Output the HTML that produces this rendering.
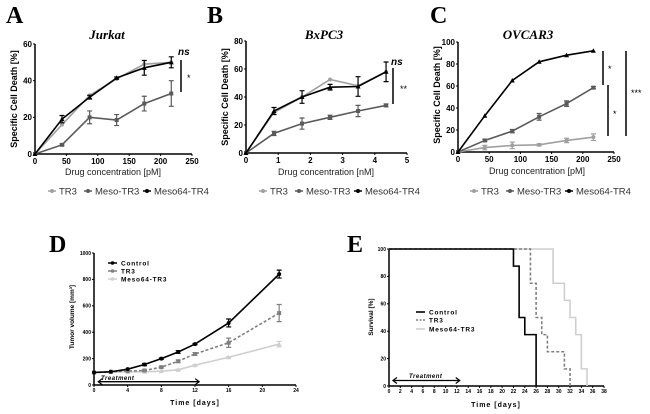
<!DOCTYPE html>
<html><head><meta charset="utf-8"><style>
html,body{margin:0;padding:0;background:#fff;}
svg{display:block;font-family:"Liberation Sans",Arial,sans-serif;}
.big{font-family:"Liberation Serif",serif;font-weight:bold;font-size:24px;}
.ttl{font-family:"Liberation Serif",serif;font-weight:bold;font-style:italic;font-size:13px;}
</style></head><body>
<svg id="fig" width="650" height="414" viewBox="0 0 650 414"></svg>
<script>
// ---- data ----
const concPM = [0,43,87,130,174,217];
const concNM = [0,0.87,1.74,2.61,3.48,4.35];
const aTR3 = [0,16,32,41,49,50];
const aMeso = [0,5,20,18.5,27.5,33];
const aMeso64 = [0,19,31,41.5,47,50];
const aErrMeso = [0,0.5,3.5,3,4,7];
const aErr64 = [0,2,1,0.5,4,3];
const bTR3 = [0,29,40,52.5,48,58];
const bMeso = [0,14,21,25.5,30,34];
const bMeso64 = [0,30,40,47,47.5,58];
const bErrMeso = [0,1.5,4,1.5,4,1];
const bErr64 = [0,2.5,4.5,2,7,7];
const cTR3 = [0,4,6,6.5,10.5,13.5];
const cMeso = [0,10.5,19,32,44,58.5];
const cMeso64 = [0,33,65,82,88,92];
const cErrTR3 = [0,2,3,1,2,3];
const cErrMeso = [0,1,1.5,3,2.5,1];
const daysD = [0,2,4,6,8,10,12,16,22];
const dControl = [95,100,120,155,200,250,310,470,840];
const dTR3 = [95,100,105,110,135,180,235,320,545];
const dMeso64 = [95,100,100,100,105,115,150,210,310];
const dErrControl = [0,0,0,8,5,10,5,30,30];
const dErrTR3 = [0,0,0,5,5,10,10,35,65];
const dErrMeso = [0,0,0,0,0,5,5,5,20];
const eControlT = [0,22,23,24,26];
const eControlS = [100,87.5,50,37.5,0];
const eTR3T = [0,25,26,27,28,31,32];
const eTR3S = [100,75,50,37.5,25,12.5,0];
const eMesoT = [0,29,31,32,33,34,35];
const eMesoS = [100,75,62.5,50,37.5,12.5,0];

const svg = document.getElementById('fig');
const NS = 'http://www.w3.org/2000/svg';
function el(tag, attrs, parent, name){
  const e = document.createElementNS(NS, tag);
  for (const k in attrs) e.setAttribute(k, attrs[k]);
  
  
  (parent||svg).appendChild(e);
  return e;
}
function txt(x,y,s,attrs,name){
  const t = el('text', Object.assign({x:x,y:y}, attrs), svg, name);
  t.textContent = s; return t;
}
function lin(d0,d1,p0,p1){ return v => p0 + (v-d0)/(d1-d0)*(p1-p0); }

function axes(X, Y, xt, yt, xmax, ymax, fs, tickLen){
  el('line',{x1:X(0),y1:Y(0),x2:X(xmax),y2:Y(0),stroke:'#000','stroke-width':1.5},svg,'x-axis');
  el('line',{x1:X(0),y1:Y(0),x2:X(0),y2:Y(ymax),stroke:'#000','stroke-width':1.5},svg,'y-axis');
  xt.forEach(v=>{
    el('line',{x1:X(v),y1:Y(0),x2:X(v),y2:Y(0)+tickLen,stroke:'#000','stroke-width':1},svg,'x-tick');
    txt(X(v),Y(0)+tickLen+fs,String(v),{'font-size':fs,'font-weight':'bold','text-anchor':'middle'},'x-tick-label');
  });
  yt.forEach(v=>{
    el('line',{x1:X(0)-tickLen,y1:Y(v),x2:X(0),y2:Y(v),stroke:'#000','stroke-width':1},svg,'y-tick');
    txt(X(0)-tickLen-1,Y(v)+fs*0.35,String(v),{'font-size':fs,'font-weight':'bold','text-anchor':'end'},'y-tick-label');
  });
}
function series(X,Y,xs,ys,color,name,err,marker,dash){
  const pts = xs.map((x,i)=>X(x)+','+Y(ys[i])).join(' ');
  el('polyline',{points:pts,fill:'none',stroke:color,'stroke-width':1.6,'stroke-dasharray':dash||'none'},svg,name+'-line');
  xs.forEach((x,i)=>{
    if (err && err[i]>0){
      const cx=X(x), y1=Y(ys[i]-err[i]), y2=Y(ys[i]+err[i]);
      el('path',{d:`M${cx},${y1}V${y2}M${cx-2.5},${y1}h5M${cx-2.5},${y2}h5`,stroke:color,'stroke-width':1.2,fill:'none'},svg,name+'-error-bar');
    }
    const cx=X(x), cy=Y(ys[i]);
    if (marker==='tri') el('path',{d:`M${cx},${cy-2.5}L${cx+2.5},${cy+2}L${cx-2.5},${cy+2}Z`,fill:color},svg,name+'-point');
    else if (marker==='sq') el('rect',{x:cx-2,y:cy-2,width:4,height:4,fill:color},svg,name+'-point');
    else el('circle',{cx:cx,cy:cy,r:2,fill:color},svg,name+'-point');
  });
}
function legendRow(y, items){
  items.forEach(it=>{
    el('line',{x1:it.x,y1:y,x2:it.x+8,y2:y,stroke:it.c,'stroke-width':1.5},svg,'legend-line');
    el('circle',{cx:it.x+4,cy:y,r:2,fill:it.c},svg,'legend-marker');
    txt(it.x+11,y+3.5,it.t,{'font-size':9.5,fill:'#333'},'legend-entry');
  });
}
function ylab(x,y,s,fs,name){
  txt(x,y,s,{'font-size':fs,'font-weight':'bold','text-anchor':'middle',transform:`rotate(-90 ${x} ${y})`},name);
}
const LG='#a0a0a0', DG='#5a5a5a', BK='#000';

// ---- Panel A ----
txt(6,23,'A',{class:'big'},'panel-label-a');
txt(107,39,'Jurkat',{class:'ttl','text-anchor':'middle'},'title-a');
{
  const X=lin(0,250,35,192), Y=lin(0,60,154,44);
  axes(X,Y,[0,50,100,150,200,250],[0,20,40,60],250,60,8,2);
  series(X,Y,concPM,aTR3,LG,'a-tr3',null,'circle');
  series(X,Y,concPM,aMeso,DG,'a-meso-tr3',aErrMeso,'sq');
  series(X,Y,concPM,aMeso64,BK,'a-meso64-tr4',aErr64,'tri');
  txt(113,175,'Drug concentration [pM]',{'font-size':9,'text-anchor':'middle',fill:'#222'},'x-axis-title-a');
  ylab(17,99,'Specific Cell Death [%]',9,'y-axis-title-a');
  el('line',{x1:181,y1:60,x2:181,y2:92,stroke:'#000','stroke-width':1.5},svg,'sig-bar-a');
  txt(178,55,'ns',{'font-size':10,'font-style':'italic','font-weight':'bold'},'sig-ns-a');
  txt(187,81,'*',{'font-size':9},'sig-star-a');
  legendRow(191,[{x:48,t:'TR3',c:LG},{x:84,t:'Meso-TR3',c:DG},{x:143,t:'Meso64-TR4',c:BK}]);
}
// ---- Panel B ----
txt(207,23,'B',{class:'big'},'panel-label-b');
txt(324,39,'BxPC3',{class:'ttl','text-anchor':'middle'},'title-b');
{
  const X=lin(0,5,246,407), Y=lin(0,80,153,41);
  axes(X,Y,[0,1,2,3,4,5],[0,20,40,60,80],5,80,8,2);
  series(X,Y,concNM,bTR3,LG,'b-tr3',null,'circle');
  series(X,Y,concNM,bMeso,DG,'b-meso-tr3',bErrMeso,'sq');
  series(X,Y,concNM,bMeso64,BK,'b-meso64-tr4',bErr64,'tri');
  txt(326,175,'Drug concentration [nM]',{'font-size':9,'text-anchor':'middle',fill:'#222'},'x-axis-title-b');
  ylab(228,97,'Specific Cell Death [%]',9,'y-axis-title-b');
  el('line',{x1:393,y1:68,x2:393,y2:104,stroke:'#000','stroke-width':1.5},svg,'sig-bar-b');
  txt(391,65,'ns',{'font-size':10,'font-style':'italic','font-weight':'bold'},'sig-ns-b');
  txt(400,92,'**',{'font-size':9},'sig-star-b');
  legendRow(191,[{x:259,t:'TR3',c:LG},{x:295,t:'Meso-TR3',c:DG},{x:354,t:'Meso64-TR4',c:BK}]);
}
// ---- Panel C ----
txt(430,23,'C',{class:'big'},'panel-label-c');
txt(528,39,'OVCAR3',{class:'ttl','text-anchor':'middle'},'title-c');
{
  const X=lin(0,250,458,614), Y=lin(0,100,152,42);
  axes(X,Y,[0,50,100,150,200,250],[0,20,40,60,80,100],250,100,8,2);
  series(X,Y,concPM,cTR3,LG,'c-tr3',cErrTR3,'circle');
  series(X,Y,concPM,cMeso,DG,'c-meso-tr3',cErrMeso,'sq');
  series(X,Y,concPM,cMeso64,BK,'c-meso64-tr4',null,'tri');
  txt(537,174,'Drug concentration [pM]',{'font-size':9,'text-anchor':'middle',fill:'#222'},'x-axis-title-c');
  ylab(440,95,'Specific Cell Death [%]',9,'y-axis-title-c');
  el('line',{x1:603,y1:51,x2:603,y2:85,stroke:'#000','stroke-width':1.5},svg,'sig-bar-c1');
  el('line',{x1:608,y1:85,x2:608,y2:136,stroke:'#000','stroke-width':1.5},svg,'sig-bar-c2');
  el('line',{x1:626,y1:51,x2:626,y2:136,stroke:'#000','stroke-width':1.5},svg,'sig-bar-c3');
  txt(608,72,'*',{'font-size':9},'sig-star-c1');
  txt(613,117,'*',{'font-size':9},'sig-star-c2');
  txt(631,96,'***',{'font-size':9},'sig-star-c3');
  legendRow(191,[{x:470,t:'TR3',c:LG},{x:506,t:'Meso-TR3',c:DG},{x:565,t:'Meso64-TR4',c:BK}]);
}
// ---- Panel D ----
txt(49,252,'D',{class:'big'},'panel-label-d');
{
  const X=lin(0,24,94,296), Y=lin(0,1000,385,253);
  axes(X,Y,[0,4,8,12,16,20,24],[0,200,400,600,800,1000],24,1000,5,2);
  series(X,Y,daysD,dMeso64,'#cfcfcf','d-meso64-tr3',dErrMeso,'tri');
  series(X,Y,daysD,dTR3,'#808080','d-tr3',dErrTR3,'sq','3,2');
  series(X,Y,daysD,dControl,BK,'d-control',dErrControl,'circle');
  el('line',{x1:X(0.5),y1:Y(25),x2:X(12.5),y2:Y(25),stroke:'#000','stroke-width':1.3},svg,'treatment-arrow-d');
  el('path',{d:`M${X(0.5)+4},${Y(25)-3}L${X(0.5)},${Y(25)}L${X(0.5)+4},${Y(25)+3}M${X(12.5)-4},${Y(25)-3}L${X(12.5)},${Y(25)}L${X(12.5)-4},${Y(25)+3}`,stroke:'#000',fill:'none','stroke-width':1.2},svg,'treatment-arrowheads-d');
  txt(101,380,'Treatment',{'font-size':6,'font-style':'italic','font-weight':'bold','letter-spacing':'0.5'},'treatment-label-d');
  txt(195,405,'Time [days]',{'font-size':7,'font-weight':'bold','text-anchor':'middle','letter-spacing':'1'},'x-axis-title-d');
  ylab(74,317,'Tumor volume [mm\u00b3]',6.5,'y-axis-title-d');
  [['Control',BK,263],['TR3','#808080',271],['Meso64-TR3','#cfcfcf',279]].forEach(r=>{
    el('line',{x1:108,y1:r[2],x2:117,y2:r[2],stroke:r[1],'stroke-width':1.5},svg,'legend-line-d');
    el('circle',{cx:112.5,cy:r[2],r:1.8,fill:r[1]},svg,'legend-marker-d');
    txt(121,r[2]+2.5,r[0],{'font-size':6.5,'font-weight':'bold','letter-spacing':'0.8'},'legend-entry-d');
  });
}
// ---- Panel E ----
txt(347,252,'E',{class:'big'},'panel-label-e');
{
  const X=lin(0,38,389,604), Y=lin(0,100,386,249);
  const ticks=[]; for(let t=0;t<=38;t+=2) ticks.push(t);
  axes(X,Y,ticks,[0,20,40,60,80,100],38,100,5,2);
  function step(T,S,color,name,dash){
    let d=`M${X(T[0])},${Y(S[0])}`;
    for(let i=1;i<T.length;i++) d+=`H${X(T[i])}V${Y(S[i])}`;
    el('path',{d:d,fill:'none',stroke:color,'stroke-width':1.6,'stroke-dasharray':dash||'none'},svg,name);
  }
  step(eMesoT,eMesoS,'#cfcfcf','e-meso64-tr3');
  step(eTR3T,eTR3S,'#808080','e-tr3','3,2');
  step(eControlT,eControlS,BK,'e-control');
  el('line',{x1:X(0.7),y1:Y(4),x2:X(12.5),y2:Y(4),stroke:'#000','stroke-width':1.3},svg,'treatment-arrow-e');
  el('path',{d:`M${X(0.7)+4},${Y(4)-3}L${X(0.7)},${Y(4)}L${X(0.7)+4},${Y(4)+3}M${X(12.5)-4},${Y(4)-3}L${X(12.5)},${Y(4)}L${X(12.5)-4},${Y(4)+3}`,stroke:'#000',fill:'none','stroke-width':1.2},svg,'treatment-arrowheads-e');
  txt(409,378,'Treatment',{'font-size':6,'font-style':'italic','font-weight':'bold','letter-spacing':'0.5'},'treatment-label-e');
  txt(496,407,'Time [days]',{'font-size':7,'font-weight':'bold','text-anchor':'middle','letter-spacing':'1'},'x-axis-title-e');
  ylab(373,317,'Survival [%]',6.5,'y-axis-title-e');
  [['Control',BK,312],['TR3','#808080',320],['Meso64-TR3','#cfcfcf',329]].forEach((r,i)=>{
    el('line',{x1:416,y1:r[2],x2:425,y2:r[2],stroke:r[1],'stroke-width':1.6,'stroke-dasharray':i===1?'2,1.5':'none'},svg,'legend-line-e');
    txt(429,r[2]+2.5,r[0],{'font-size':6.5,'font-weight':'bold','letter-spacing':'0.8'},'legend-entry-e');
  });
}
</script>
</body></html>
